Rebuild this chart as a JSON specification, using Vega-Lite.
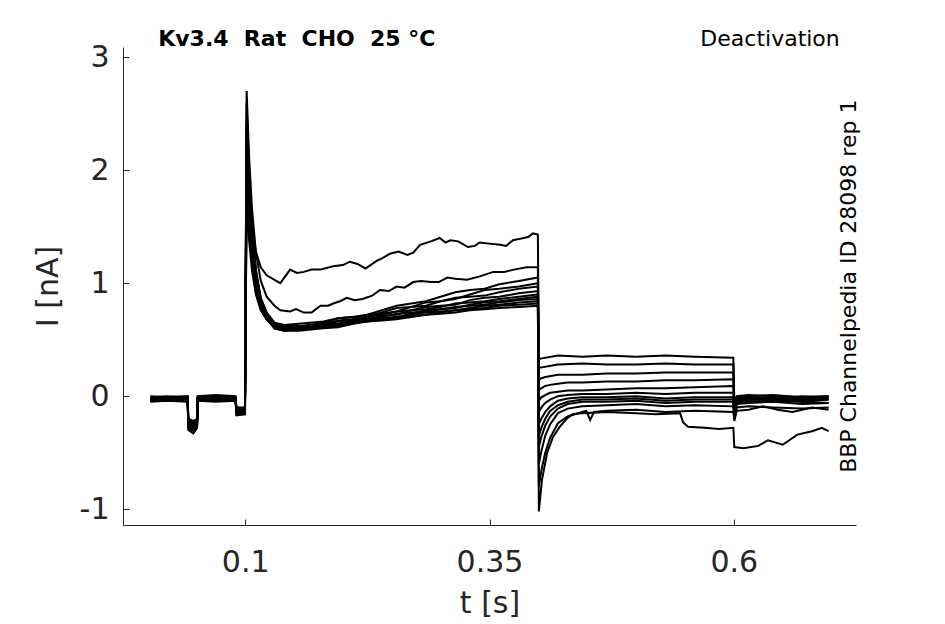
{
  "$schema": "https://vega.github.io/schema/vega-lite/v6.json",
  "description": "Kv3.4 Rat CHO 25 C, deactivation protocol, current traces",
  "width": 733,
  "height": 478,
  "autosize": {"type": "none"},
  "padding": {"left": 123, "top": 47, "right": 89, "bottom": 99},
  "config": {
    "view": {"stroke": null},
    "font": "DejaVu Sans",
    "axis": {
      "grid": false,
      "domainColor": "#262626",
      "tickColor": "#262626",
      "labelColor": "#262626",
      "titleColor": "#262626",
      "labelFont": "DejaVu Sans",
      "titleFont": "DejaVu Sans",
      "labelFontSize": 30,
      "titleFontSize": 30,
      "titleFontWeight": "normal",
      "tickSize": -6,
      "tickWidth": 1,
      "domainWidth": 1
    }
  },
  "layer": [
    {
      "data": {
        "values": [
          {"k":1,"t":0.003,"i":-0.02},{"k":1,"t":0.02,"i":-0.01},{"k":1,"t":0.0412,"i":-0.02},{"k":1,"t":0.0418,"i":-0.26},{"k":1,"t":0.047,"i":-0.29},{"k":1,"t":0.0508,"i":-0.24},{"k":1,"t":0.0514,"i":-0.02},{"k":1,"t":0.07,"i":-0.01},{"k":1,"t":0.0902,"i":-0.03},{"k":1,"t":0.091,"i":-0.13},{"k":1,"t":0.0998,"i":-0.12},
          {"k":1,"t":0.1015,"i":2.1},{"k":1,"t":0.104,"i":1.77},{"k":1,"t":0.107,"i":1.5},{"k":1,"t":0.111,"i":1.28},{"k":1,"t":0.116,"i":1.14},{"k":1,"t":0.122,"i":1.07},{"k":1,"t":0.13,"i":1.03},{"k":1,"t":0.136,"i":1.0},{"k":1,"t":0.146,"i":1.12},{"k":1,"t":0.153,"i":1.09},{"k":1,"t":0.16,"i":1.1},{"k":1,"t":0.168,"i":1.12},{"k":1,"t":0.177,"i":1.12},{"k":1,"t":0.19,"i":1.15},{"k":1,"t":0.2,"i":1.16},{"k":1,"t":0.207,"i":1.19},{"k":1,"t":0.215,"i":1.17},{"k":1,"t":0.223,"i":1.13},{"k":1,"t":0.235,"i":1.2},{"k":1,"t":0.24,"i":1.22},{"k":1,"t":0.248,"i":1.26},{"k":1,"t":0.257,"i":1.28},{"k":1,"t":0.266,"i":1.25},{"k":1,"t":0.272,"i":1.27},{"k":1,"t":0.279,"i":1.34},{"k":1,"t":0.29,"i":1.37},{"k":1,"t":0.299,"i":1.4},{"k":1,"t":0.305,"i":1.36},{"k":1,"t":0.31,"i":1.38},{"k":1,"t":0.318,"i":1.37},{"k":1,"t":0.328,"i":1.32},{"k":1,"t":0.335,"i":1.33},{"k":1,"t":0.34,"i":1.36},{"k":1,"t":0.35,"i":1.35},{"k":1,"t":0.361,"i":1.34},{"k":1,"t":0.367,"i":1.33},{"k":1,"t":0.374,"i":1.38},{"k":1,"t":0.38,"i":1.39},{"k":1,"t":0.385,"i":1.4},{"k":1,"t":0.39,"i":1.41},{"k":1,"t":0.3945,"i":1.44},{"k":1,"t":0.3995,"i":1.43},
          {"k":1,"t":0.4005,"i":0.33},{"k":1,"t":0.42,"i":0.36},{"k":1,"t":0.445,"i":0.35},{"k":1,"t":0.47,"i":0.36},{"k":1,"t":0.5,"i":0.35},{"k":1,"t":0.53,"i":0.36},{"k":1,"t":0.56,"i":0.35},{"k":1,"t":0.5995,"i":0.34},
          {"k":1,"t":0.6005,"i":-0.08},{"k":1,"t":0.603,"i":-0.03},{"k":1,"t":0.615,"i":-0.02},{"k":1,"t":0.64,"i":-0.01},{"k":1,"t":0.67,"i":-0.02},{"k":1,"t":0.697,"i":-0.02},

          {"k":2,"t":0.003,"i":-0.03},{"k":2,"t":0.02,"i":-0.02},{"k":2,"t":0.0412,"i":-0.03},{"k":2,"t":0.0418,"i":-0.3},{"k":2,"t":0.047,"i":-0.33},{"k":2,"t":0.0508,"i":-0.28},{"k":2,"t":0.0514,"i":-0.03},{"k":2,"t":0.07,"i":-0.02},{"k":2,"t":0.0902,"i":-0.02},{"k":2,"t":0.091,"i":-0.16},{"k":2,"t":0.0998,"i":-0.15},
          {"k":2,"t":0.1015,"i":2.7},{"k":2,"t":0.104,"i":2.12},{"k":2,"t":0.107,"i":1.66},{"k":2,"t":0.111,"i":1.27},{"k":2,"t":0.116,"i":1.02},{"k":2,"t":0.122,"i":0.88},{"k":2,"t":0.13,"i":0.8},{"k":2,"t":0.136,"i":0.76},{"k":2,"t":0.146,"i":0.75},{"k":2,"t":0.152,"i":0.77},{"k":2,"t":0.16,"i":0.74},{"k":2,"t":0.168,"i":0.74},{"k":2,"t":0.177,"i":0.8},{"k":2,"t":0.185,"i":0.8},{"k":2,"t":0.19,"i":0.82},{"k":2,"t":0.197,"i":0.84},{"k":2,"t":0.204,"i":0.87},{"k":2,"t":0.212,"i":0.85},{"k":2,"t":0.22,"i":0.86},{"k":2,"t":0.23,"i":0.89},{"k":2,"t":0.238,"i":0.94},{"k":2,"t":0.247,"i":0.93},{"k":2,"t":0.255,"i":0.97},{"k":2,"t":0.263,"i":0.96},{"k":2,"t":0.272,"i":1.01},{"k":2,"t":0.28,"i":1.02},{"k":2,"t":0.29,"i":1.01},{"k":2,"t":0.298,"i":1.01},{"k":2,"t":0.307,"i":1.05},{"k":2,"t":0.315,"i":1.04},{"k":2,"t":0.327,"i":1.03},{"k":2,"t":0.34,"i":1.06},{"k":2,"t":0.354,"i":1.1},{"k":2,"t":0.365,"i":1.1},{"k":2,"t":0.375,"i":1.12},{"k":2,"t":0.388,"i":1.14},{"k":2,"t":0.3995,"i":1.14},
          {"k":2,"t":0.4005,"i":0.25},{"k":2,"t":0.42,"i":0.28},{"k":2,"t":0.445,"i":0.29},{"k":2,"t":0.47,"i":0.28},{"k":2,"t":0.5,"i":0.28},{"k":2,"t":0.53,"i":0.29},{"k":2,"t":0.56,"i":0.28},{"k":2,"t":0.5995,"i":0.28},
          {"k":2,"t":0.6005,"i":-0.05},{"k":2,"t":0.603,"i":0.0},{"k":2,"t":0.615,"i":0.01},{"k":2,"t":0.64,"i":0.0},{"k":2,"t":0.67,"i":-0.01},{"k":2,"t":0.697,"i":0.0},

          {"k":3,"t":0.003,"i":0.0},{"k":3,"t":0.02,"i":-0.01},{"k":3,"t":0.0412,"i":0.0},{"k":3,"t":0.0418,"i":-0.2},{"k":3,"t":0.047,"i":-0.22},{"k":3,"t":0.0508,"i":-0.2},{"k":3,"t":0.0514,"i":0.0},{"k":3,"t":0.07,"i":0.01},{"k":3,"t":0.0902,"i":0.0},{"k":3,"t":0.091,"i":-0.1},{"k":3,"t":0.0998,"i":-0.1},
          {"k":3,"t":0.1015,"i":2.5},{"k":3,"t":0.104,"i":1.94},{"k":3,"t":0.107,"i":1.49},{"k":3,"t":0.111,"i":1.12},{"k":3,"t":0.116,"i":0.87},{"k":3,"t":0.122,"i":0.74},{"k":3,"t":0.13,"i":0.64},{"k":3,"t":0.14,"i":0.62},{"k":3,"t":0.155,"i":0.62},{"k":3,"t":0.18,"i":0.65},{"k":3,"t":0.195,"i":0.69},{"k":3,"t":0.21,"i":0.7},{"k":3,"t":0.225,"i":0.72},{"k":3,"t":0.24,"i":0.76},{"k":3,"t":0.255,"i":0.8},{"k":3,"t":0.27,"i":0.82},{"k":3,"t":0.285,"i":0.84},{"k":3,"t":0.3,"i":0.88},{"k":3,"t":0.315,"i":0.92},{"k":3,"t":0.33,"i":0.94},{"k":3,"t":0.345,"i":0.95},{"k":3,"t":0.36,"i":0.99},{"k":3,"t":0.38,"i":1.02},{"k":3,"t":0.3995,"i":1.05},
          {"k":3,"t":0.4005,"i":0.15},{"k":3,"t":0.407,"i":0.17},{"k":3,"t":0.42,"i":0.19},{"k":3,"t":0.445,"i":0.19},{"k":3,"t":0.47,"i":0.2},{"k":3,"t":0.5,"i":0.2},{"k":3,"t":0.53,"i":0.21},{"k":3,"t":0.56,"i":0.21},{"k":3,"t":0.5995,"i":0.21},
          {"k":3,"t":0.6005,"i":-0.1},{"k":3,"t":0.603,"i":-0.02},{"k":3,"t":0.615,"i":-0.01},{"k":3,"t":0.64,"i":-0.02},{"k":3,"t":0.67,"i":0.0},{"k":3,"t":0.697,"i":-0.01},

          {"k":4,"t":0.003,"i":-0.04},{"k":4,"t":0.02,"i":-0.03},{"k":4,"t":0.0412,"i":-0.04},{"k":4,"t":0.0418,"i":-0.24},{"k":4,"t":0.047,"i":-0.27},{"k":4,"t":0.0508,"i":-0.23},{"k":4,"t":0.0514,"i":-0.03},{"k":4,"t":0.07,"i":-0.04},{"k":4,"t":0.0902,"i":-0.03},{"k":4,"t":0.091,"i":-0.14},{"k":4,"t":0.0998,"i":-0.13},
          {"k":4,"t":0.1015,"i":2.4},{"k":4,"t":0.104,"i":1.87},{"k":4,"t":0.107,"i":1.43},{"k":4,"t":0.111,"i":1.08},{"k":4,"t":0.116,"i":0.84},{"k":4,"t":0.122,"i":0.71},{"k":4,"t":0.13,"i":0.62},{"k":4,"t":0.14,"i":0.6},{"k":4,"t":0.155,"i":0.61},{"k":4,"t":0.18,"i":0.63},{"k":4,"t":0.195,"i":0.64},{"k":4,"t":0.21,"i":0.68},{"k":4,"t":0.225,"i":0.72},{"k":4,"t":0.24,"i":0.73},{"k":4,"t":0.255,"i":0.75},{"k":4,"t":0.27,"i":0.79},{"k":4,"t":0.285,"i":0.83},{"k":4,"t":0.3,"i":0.84},{"k":4,"t":0.315,"i":0.86},{"k":4,"t":0.33,"i":0.9},{"k":4,"t":0.345,"i":0.94},{"k":4,"t":0.36,"i":0.95},{"k":4,"t":0.38,"i":0.97},{"k":4,"t":0.3995,"i":1.0},
          {"k":4,"t":0.4005,"i":0.06},{"k":4,"t":0.403,"i":0.07},{"k":4,"t":0.407,"i":0.09},{"k":4,"t":0.412,"i":0.1},{"k":4,"t":0.42,"i":0.11},{"k":4,"t":0.43,"i":0.12},{"k":4,"t":0.445,"i":0.12},{"k":4,"t":0.47,"i":0.13},{"k":4,"t":0.5,"i":0.13},{"k":4,"t":0.53,"i":0.14},{"k":4,"t":0.56,"i":0.14},{"k":4,"t":0.5995,"i":0.15},
          {"k":4,"t":0.6005,"i":-0.12},{"k":4,"t":0.603,"i":-0.04},{"k":4,"t":0.615,"i":-0.03},{"k":4,"t":0.64,"i":-0.04},{"k":4,"t":0.67,"i":-0.03},{"k":4,"t":0.697,"i":-0.02},

          {"k":5,"t":0.003,"i":-0.01},{"k":5,"t":0.02,"i":0.0},{"k":5,"t":0.0412,"i":-0.01},{"k":5,"t":0.0418,"i":-0.22},{"k":5,"t":0.047,"i":-0.25},{"k":5,"t":0.0508,"i":-0.2},{"k":5,"t":0.0514,"i":-0.01},{"k":5,"t":0.07,"i":0.0},{"k":5,"t":0.0902,"i":-0.01},{"k":5,"t":0.091,"i":-0.12},{"k":5,"t":0.0998,"i":-0.11},
          {"k":5,"t":0.1015,"i":2.3},{"k":5,"t":0.104,"i":1.81},{"k":5,"t":0.107,"i":1.4},{"k":5,"t":0.111,"i":1.07},{"k":5,"t":0.116,"i":0.86},{"k":5,"t":0.122,"i":0.74},{"k":5,"t":0.13,"i":0.65},{"k":5,"t":0.14,"i":0.63},{"k":5,"t":0.155,"i":0.64},{"k":5,"t":0.18,"i":0.66},{"k":5,"t":0.195,"i":0.69},{"k":5,"t":0.21,"i":0.7},{"k":5,"t":0.225,"i":0.71},{"k":5,"t":0.24,"i":0.74},{"k":5,"t":0.255,"i":0.78},{"k":5,"t":0.27,"i":0.79},{"k":5,"t":0.285,"i":0.8},{"k":5,"t":0.3,"i":0.84},{"k":5,"t":0.315,"i":0.87},{"k":5,"t":0.33,"i":0.88},{"k":5,"t":0.345,"i":0.89},{"k":5,"t":0.36,"i":0.92},{"k":5,"t":0.38,"i":0.95},{"k":5,"t":0.3995,"i":0.97},
          {"k":5,"t":0.4005,"i":-0.04},{"k":5,"t":0.403,"i":-0.01},{"k":5,"t":0.407,"i":0.01},{"k":5,"t":0.412,"i":0.03},{"k":5,"t":0.42,"i":0.04},{"k":5,"t":0.43,"i":0.05},{"k":5,"t":0.445,"i":0.05},{"k":5,"t":0.47,"i":0.06},{"k":5,"t":0.5,"i":0.07},{"k":5,"t":0.53,"i":0.07},{"k":5,"t":0.56,"i":0.08},{"k":5,"t":0.5995,"i":0.09},
          {"k":5,"t":0.6005,"i":-0.15},{"k":5,"t":0.603,"i":-0.01},{"k":5,"t":0.615,"i":0.0},{"k":5,"t":0.64,"i":0.01},{"k":5,"t":0.67,"i":-0.01},{"k":5,"t":0.697,"i":0.0},

          {"k":6,"t":0.003,"i":-0.03},{"k":6,"t":0.02,"i":-0.04},{"k":6,"t":0.0412,"i":-0.02},{"k":6,"t":0.0418,"i":-0.28},{"k":6,"t":0.047,"i":-0.31},{"k":6,"t":0.0508,"i":-0.26},{"k":6,"t":0.0514,"i":-0.02},{"k":6,"t":0.07,"i":-0.03},{"k":6,"t":0.0902,"i":-0.02},{"k":6,"t":0.091,"i":-0.15},{"k":6,"t":0.0998,"i":-0.14},
          {"k":6,"t":0.1015,"i":2.2},{"k":6,"t":0.104,"i":1.72},{"k":6,"t":0.107,"i":1.33},{"k":6,"t":0.111,"i":1.01},{"k":6,"t":0.116,"i":0.8},{"k":6,"t":0.122,"i":0.68},{"k":6,"t":0.13,"i":0.6},{"k":6,"t":0.14,"i":0.58},{"k":6,"t":0.155,"i":0.59},{"k":6,"t":0.18,"i":0.62},{"k":6,"t":0.195,"i":0.63},{"k":6,"t":0.21,"i":0.66},{"k":6,"t":0.225,"i":0.7},{"k":6,"t":0.24,"i":0.71},{"k":6,"t":0.255,"i":0.72},{"k":6,"t":0.27,"i":0.76},{"k":6,"t":0.285,"i":0.79},{"k":6,"t":0.3,"i":0.8},{"k":6,"t":0.315,"i":0.81},{"k":6,"t":0.33,"i":0.85},{"k":6,"t":0.345,"i":0.87},{"k":6,"t":0.36,"i":0.88},{"k":6,"t":0.38,"i":0.91},{"k":6,"t":0.3995,"i":0.93},
          {"k":6,"t":0.4005,"i":-0.14},{"k":6,"t":0.403,"i":-0.1},{"k":6,"t":0.407,"i":-0.06},{"k":6,"t":0.412,"i":-0.03},{"k":6,"t":0.42,"i":0.0},{"k":6,"t":0.43,"i":0.01},{"k":6,"t":0.445,"i":0.02},{"k":6,"t":0.47,"i":0.02},{"k":6,"t":0.5,"i":0.03},{"k":6,"t":0.53,"i":0.02},{"k":6,"t":0.56,"i":0.03},{"k":6,"t":0.5995,"i":0.03},
          {"k":6,"t":0.6005,"i":-0.18},{"k":6,"t":0.603,"i":-0.05},{"k":6,"t":0.615,"i":-0.03},{"k":6,"t":0.64,"i":-0.02},{"k":6,"t":0.67,"i":-0.04},{"k":6,"t":0.697,"i":-0.03},

          {"k":7,"t":0.003,"i":-0.02},{"k":7,"t":0.02,"i":-0.02},{"k":7,"t":0.0412,"i":-0.01},{"k":7,"t":0.0418,"i":-0.23},{"k":7,"t":0.047,"i":-0.26},{"k":7,"t":0.0508,"i":-0.22},{"k":7,"t":0.0514,"i":-0.02},{"k":7,"t":0.07,"i":-0.01},{"k":7,"t":0.0902,"i":-0.02},{"k":7,"t":0.091,"i":-0.11},{"k":7,"t":0.0998,"i":-0.12},
          {"k":7,"t":0.1015,"i":2.0},{"k":7,"t":0.104,"i":1.59},{"k":7,"t":0.107,"i":1.25},{"k":7,"t":0.111,"i":0.98},{"k":7,"t":0.116,"i":0.8},{"k":7,"t":0.122,"i":0.7},{"k":7,"t":0.13,"i":0.63},{"k":7,"t":0.14,"i":0.61},{"k":7,"t":0.155,"i":0.61},{"k":7,"t":0.18,"i":0.64},{"k":7,"t":0.195,"i":0.67},{"k":7,"t":0.21,"i":0.68},{"k":7,"t":0.225,"i":0.69},{"k":7,"t":0.24,"i":0.72},{"k":7,"t":0.255,"i":0.75},{"k":7,"t":0.27,"i":0.76},{"k":7,"t":0.285,"i":0.77},{"k":7,"t":0.3,"i":0.79},{"k":7,"t":0.315,"i":0.82},{"k":7,"t":0.33,"i":0.83},{"k":7,"t":0.345,"i":0.84},{"k":7,"t":0.36,"i":0.86},{"k":7,"t":0.38,"i":0.88},{"k":7,"t":0.3995,"i":0.9},
          {"k":7,"t":0.4005,"i":-0.25},{"k":7,"t":0.403,"i":-0.2},{"k":7,"t":0.407,"i":-0.14},{"k":7,"t":0.412,"i":-0.09},{"k":7,"t":0.42,"i":-0.04},{"k":7,"t":0.43,"i":-0.02},{"k":7,"t":0.445,"i":-0.01},{"k":7,"t":0.47,"i":-0.01},{"k":7,"t":0.5,"i":0.0},{"k":7,"t":0.53,"i":-0.02},{"k":7,"t":0.56,"i":-0.01},{"k":7,"t":0.5995,"i":-0.01},
          {"k":7,"t":0.6005,"i":-0.2},{"k":7,"t":0.603,"i":-0.06},{"k":7,"t":0.615,"i":-0.05},{"k":7,"t":0.64,"i":-0.04},{"k":7,"t":0.67,"i":-0.05},{"k":7,"t":0.697,"i":-0.06},

          {"k":8,"t":0.003,"i":-0.05},{"k":8,"t":0.02,"i":-0.04},{"k":8,"t":0.0412,"i":-0.05},{"k":8,"t":0.0418,"i":-0.27},{"k":8,"t":0.047,"i":-0.3},{"k":8,"t":0.0508,"i":-0.25},{"k":8,"t":0.0514,"i":-0.04},{"k":8,"t":0.07,"i":-0.05},{"k":8,"t":0.0902,"i":-0.04},{"k":8,"t":0.091,"i":-0.17},{"k":8,"t":0.0998,"i":-0.16},
          {"k":8,"t":0.1015,"i":1.9},{"k":8,"t":0.104,"i":1.51},{"k":8,"t":0.107,"i":1.2},{"k":8,"t":0.111,"i":0.94},{"k":8,"t":0.116,"i":0.77},{"k":8,"t":0.122,"i":0.68},{"k":8,"t":0.13,"i":0.61},{"k":8,"t":0.14,"i":0.59},{"k":8,"t":0.155,"i":0.6},{"k":8,"t":0.18,"i":0.62},{"k":8,"t":0.195,"i":0.62},{"k":8,"t":0.21,"i":0.65},{"k":8,"t":0.225,"i":0.68},{"k":8,"t":0.24,"i":0.69},{"k":8,"t":0.255,"i":0.7},{"k":8,"t":0.27,"i":0.73},{"k":8,"t":0.285,"i":0.76},{"k":8,"t":0.3,"i":0.77},{"k":8,"t":0.315,"i":0.78},{"k":8,"t":0.33,"i":0.81},{"k":8,"t":0.345,"i":0.83},{"k":8,"t":0.36,"i":0.84},{"k":8,"t":0.38,"i":0.86},{"k":8,"t":0.3995,"i":0.88},
          {"k":8,"t":0.4005,"i":-0.35},{"k":8,"t":0.403,"i":-0.28},{"k":8,"t":0.407,"i":-0.2},{"k":8,"t":0.412,"i":-0.13},{"k":8,"t":0.42,"i":-0.08},{"k":8,"t":0.43,"i":-0.05},{"k":8,"t":0.445,"i":-0.03},{"k":8,"t":0.47,"i":-0.03},{"k":8,"t":0.5,"i":-0.02},{"k":8,"t":0.53,"i":-0.04},{"k":8,"t":0.56,"i":-0.03},{"k":8,"t":0.5995,"i":-0.03},
          {"k":8,"t":0.6005,"i":-0.2},{"k":8,"t":0.603,"i":-0.1},{"k":8,"t":0.615,"i":-0.09},{"k":8,"t":0.64,"i":-0.1},{"k":8,"t":0.67,"i":-0.11},{"k":8,"t":0.697,"i":-0.1},

          {"k":9,"t":0.003,"i":-0.01},{"k":9,"t":0.02,"i":-0.02},{"k":9,"t":0.0412,"i":-0.01},{"k":9,"t":0.0418,"i":-0.21},{"k":9,"t":0.047,"i":-0.24},{"k":9,"t":0.0508,"i":-0.21},{"k":9,"t":0.0514,"i":-0.01},{"k":9,"t":0.07,"i":-0.02},{"k":9,"t":0.0902,"i":-0.01},{"k":9,"t":0.091,"i":-0.1},{"k":9,"t":0.0998,"i":-0.11},
          {"k":9,"t":0.1015,"i":1.8},{"k":9,"t":0.104,"i":1.45},{"k":9,"t":0.107,"i":1.16},{"k":9,"t":0.111,"i":0.92},{"k":9,"t":0.116,"i":0.77},{"k":9,"t":0.122,"i":0.68},{"k":9,"t":0.13,"i":0.62},{"k":9,"t":0.14,"i":0.6},{"k":9,"t":0.155,"i":0.6},{"k":9,"t":0.18,"i":0.63},{"k":9,"t":0.195,"i":0.66},{"k":9,"t":0.21,"i":0.67},{"k":9,"t":0.225,"i":0.68},{"k":9,"t":0.24,"i":0.7},{"k":9,"t":0.255,"i":0.73},{"k":9,"t":0.27,"i":0.74},{"k":9,"t":0.285,"i":0.75},{"k":9,"t":0.3,"i":0.77},{"k":9,"t":0.315,"i":0.79},{"k":9,"t":0.33,"i":0.8},{"k":9,"t":0.345,"i":0.81},{"k":9,"t":0.36,"i":0.83},{"k":9,"t":0.38,"i":0.85},{"k":9,"t":0.3995,"i":0.86},
          {"k":9,"t":0.4005,"i":-0.45},{"k":9,"t":0.403,"i":-0.36},{"k":9,"t":0.407,"i":-0.26},{"k":9,"t":0.412,"i":-0.18},{"k":9,"t":0.42,"i":-0.11},{"k":9,"t":0.43,"i":-0.07},{"k":9,"t":0.445,"i":-0.05},{"k":9,"t":0.47,"i":-0.05},{"k":9,"t":0.5,"i":-0.04},{"k":9,"t":0.53,"i":-0.06},{"k":9,"t":0.56,"i":-0.05},{"k":9,"t":0.5995,"i":-0.05},
          {"k":9,"t":0.6005,"i":-0.15},{"k":9,"t":0.603,"i":-0.04},{"k":9,"t":0.615,"i":-0.03},{"k":9,"t":0.64,"i":-0.02},{"k":9,"t":0.67,"i":-0.05},{"k":9,"t":0.697,"i":-0.03},

          {"k":10,"t":0.003,"i":-0.03},{"k":10,"t":0.02,"i":-0.02},{"k":10,"t":0.0412,"i":-0.03},{"k":10,"t":0.0418,"i":-0.25},{"k":10,"t":0.047,"i":-0.28},{"k":10,"t":0.0508,"i":-0.24},{"k":10,"t":0.0514,"i":-0.03},{"k":10,"t":0.07,"i":-0.02},{"k":10,"t":0.0902,"i":-0.03},{"k":10,"t":0.091,"i":-0.13},{"k":10,"t":0.0998,"i":-0.14},
          {"k":10,"t":0.1015,"i":2.6},{"k":10,"t":0.104,"i":2.0},{"k":10,"t":0.107,"i":1.51},{"k":10,"t":0.111,"i":1.11},{"k":10,"t":0.116,"i":0.85},{"k":10,"t":0.122,"i":0.71},{"k":10,"t":0.13,"i":0.6},{"k":10,"t":0.14,"i":0.58},{"k":10,"t":0.155,"i":0.58},{"k":10,"t":0.18,"i":0.6},{"k":10,"t":0.195,"i":0.61},{"k":10,"t":0.21,"i":0.64},{"k":10,"t":0.225,"i":0.67},{"k":10,"t":0.24,"i":0.68},{"k":10,"t":0.255,"i":0.69},{"k":10,"t":0.27,"i":0.72},{"k":10,"t":0.285,"i":0.74},{"k":10,"t":0.3,"i":0.75},{"k":10,"t":0.315,"i":0.76},{"k":10,"t":0.33,"i":0.78},{"k":10,"t":0.345,"i":0.8},{"k":10,"t":0.36,"i":0.81},{"k":10,"t":0.38,"i":0.83},{"k":10,"t":0.3995,"i":0.84},
          {"k":10,"t":0.4005,"i":-0.6},{"k":10,"t":0.403,"i":-0.49},{"k":10,"t":0.407,"i":-0.35},{"k":10,"t":0.412,"i":-0.25},{"k":10,"t":0.42,"i":-0.15},{"k":10,"t":0.43,"i":-0.11},{"k":10,"t":0.445,"i":-0.09},{"k":10,"t":0.47,"i":-0.08},{"k":10,"t":0.5,"i":-0.07},{"k":10,"t":0.53,"i":-0.09},{"k":10,"t":0.56,"i":-0.08},{"k":10,"t":0.5995,"i":-0.09},
          {"k":10,"t":0.6005,"i":-0.22},{"k":10,"t":0.603,"i":-0.13},{"k":10,"t":0.615,"i":-0.12},{"k":10,"t":0.63,"i":-0.09},{"k":10,"t":0.645,"i":-0.12},{"k":10,"t":0.66,"i":-0.14},{"k":10,"t":0.68,"i":-0.1},{"k":10,"t":0.697,"i":-0.12},

          {"k":11,"t":0.003,"i":-0.02},{"k":11,"t":0.02,"i":-0.03},{"k":11,"t":0.0412,"i":-0.02},{"k":11,"t":0.0418,"i":-0.29},{"k":11,"t":0.047,"i":-0.32},{"k":11,"t":0.0508,"i":-0.27},{"k":11,"t":0.0514,"i":-0.02},{"k":11,"t":0.07,"i":-0.03},{"k":11,"t":0.0902,"i":-0.02},{"k":11,"t":0.091,"i":-0.14},{"k":11,"t":0.0998,"i":-0.15},
          {"k":11,"t":0.1015,"i":1.7},{"k":11,"t":0.104,"i":1.38},{"k":11,"t":0.107,"i":1.11},{"k":11,"t":0.111,"i":0.9},{"k":11,"t":0.116,"i":0.76},{"k":11,"t":0.122,"i":0.68},{"k":11,"t":0.13,"i":0.62},{"k":11,"t":0.14,"i":0.6},{"k":11,"t":0.155,"i":0.6},{"k":11,"t":0.18,"i":0.62},{"k":11,"t":0.195,"i":0.64},{"k":11,"t":0.21,"i":0.65},{"k":11,"t":0.225,"i":0.66},{"k":11,"t":0.24,"i":0.68},{"k":11,"t":0.255,"i":0.7},{"k":11,"t":0.27,"i":0.71},{"k":11,"t":0.285,"i":0.72},{"k":11,"t":0.3,"i":0.74},{"k":11,"t":0.315,"i":0.76},{"k":11,"t":0.33,"i":0.77},{"k":11,"t":0.345,"i":0.78},{"k":11,"t":0.36,"i":0.8},{"k":11,"t":0.38,"i":0.81},{"k":11,"t":0.3995,"i":0.82},
          {"k":11,"t":0.4005,"i":-0.8},{"k":11,"t":0.403,"i":-0.66},{"k":11,"t":0.407,"i":-0.5},{"k":11,"t":0.412,"i":-0.37},{"k":11,"t":0.42,"i":-0.24},{"k":11,"t":0.43,"i":-0.18},{"k":11,"t":0.445,"i":-0.14},{"k":11,"t":0.449,"i":-0.13},{"k":11,"t":0.453,"i":-0.21},{"k":11,"t":0.457,"i":-0.14},{"k":11,"t":0.47,"i":-0.13},{"k":11,"t":0.5,"i":-0.12},{"k":11,"t":0.53,"i":-0.14},{"k":11,"t":0.56,"i":-0.13},{"k":11,"t":0.5995,"i":-0.14},
          {"k":11,"t":0.6005,"i":-0.2},{"k":11,"t":0.603,"i":-0.07},{"k":11,"t":0.615,"i":-0.06},{"k":11,"t":0.64,"i":-0.05},{"k":11,"t":0.67,"i":-0.07},{"k":11,"t":0.697,"i":-0.06},

          {"k":12,"t":0.003,"i":-0.04},{"k":12,"t":0.02,"i":-0.03},{"k":12,"t":0.0412,"i":-0.04},{"k":12,"t":0.0418,"i":-0.23},{"k":12,"t":0.047,"i":-0.26},{"k":12,"t":0.0508,"i":-0.22},{"k":12,"t":0.0514,"i":-0.03},{"k":12,"t":0.07,"i":-0.04},{"k":12,"t":0.0902,"i":-0.03},{"k":12,"t":0.091,"i":-0.12},{"k":12,"t":0.0998,"i":-0.13},
          {"k":12,"t":0.1015,"i":2.35},{"k":12,"t":0.104,"i":1.83},{"k":12,"t":0.107,"i":1.4},{"k":12,"t":0.111,"i":1.06},{"k":12,"t":0.116,"i":0.83},{"k":12,"t":0.122,"i":0.7},{"k":12,"t":0.13,"i":0.61},{"k":12,"t":0.14,"i":0.59},{"k":12,"t":0.155,"i":0.59},{"k":12,"t":0.18,"i":0.61},{"k":12,"t":0.195,"i":0.62},{"k":12,"t":0.21,"i":0.64},{"k":12,"t":0.225,"i":0.66},{"k":12,"t":0.24,"i":0.67},{"k":12,"t":0.255,"i":0.68},{"k":12,"t":0.27,"i":0.7},{"k":12,"t":0.285,"i":0.72},{"k":12,"t":0.3,"i":0.73},{"k":12,"t":0.315,"i":0.74},{"k":12,"t":0.33,"i":0.76},{"k":12,"t":0.345,"i":0.77},{"k":12,"t":0.36,"i":0.78},{"k":12,"t":0.38,"i":0.79},{"k":12,"t":0.3995,"i":0.8},
          {"k":12,"t":0.4005,"i":-1.02},{"k":12,"t":0.4037,"i":-0.74},{"k":12,"t":0.409,"i":-0.5},{"k":12,"t":0.415,"i":-0.36},{"k":12,"t":0.422,"i":-0.27},{"k":12,"t":0.429,"i":-0.2},{"k":12,"t":0.435,"i":-0.16},{"k":12,"t":0.445,"i":-0.15},{"k":12,"t":0.47,"i":-0.14},{"k":12,"t":0.5,"i":-0.15},{"k":12,"t":0.52,"i":-0.16},{"k":12,"t":0.545,"i":-0.15},{"k":12,"t":0.548,"i":-0.23},{"k":12,"t":0.553,"i":-0.27},{"k":12,"t":0.57,"i":-0.28},{"k":12,"t":0.585,"i":-0.29},{"k":12,"t":0.5995,"i":-0.28},
          {"k":12,"t":0.6005,"i":-0.45},{"k":12,"t":0.61,"i":-0.46},{"k":12,"t":0.625,"i":-0.44},{"k":12,"t":0.635,"i":-0.39},{"k":12,"t":0.65,"i":-0.43},{"k":12,"t":0.665,"i":-0.34},{"k":12,"t":0.68,"i":-0.31},{"k":12,"t":0.69,"i":-0.28},{"k":12,"t":0.697,"i":-0.31}
        ]
      },
      "mark": {"type": "line", "color": "black", "strokeWidth": 2},
      "encoding": {
        "x": {
          "field": "t",
          "type": "quantitative",
          "scale": {"domain": [-0.025, 0.725], "nice": false, "zero": false},
          "axis": {"values": [0.1, 0.35, 0.6], "labelExpr": "'' + datum.value", "title": "t [s]", "labelPadding": 28, "titlePadding": 11}
        },
        "y": {
          "field": "i",
          "type": "quantitative",
          "scale": {"domain": [-1.14, 3.09], "nice": false, "zero": false},
          "axis": {"values": [-1, 0, 1, 2, 3], "labelExpr": "'' + datum.value", "title": "I [nA]", "labelPadding": 20, "titlePadding": 16}
        },
        "detail": {"field": "k", "type": "nominal"}
      }
    },
    {
      "data": {"values": [{}]},
      "mark": {"type": "text", "align": "left", "baseline": "middle", "fontSize": 22, "fontWeight": "bold", "font": "DejaVu Sans", "color": "black"},
      "encoding": {
        "x": {"datum": 0.011, "type": "quantitative"},
        "y": {"datum": 3.16, "type": "quantitative"},
        "text": {"value": "Kv3.4\u00a0 Rat\u00a0 CHO\u00a0 25 °C"}
      }
    },
    {
      "data": {"values": [{}]},
      "mark": {"type": "text", "align": "right", "baseline": "middle", "fontSize": 22, "font": "DejaVu Sans", "color": "black"},
      "encoding": {
        "x": {"datum": 0.7084, "type": "quantitative"},
        "y": {"datum": 3.16, "type": "quantitative"},
        "text": {"value": "Deactivation"}
      }
    },
    {
      "data": {"values": [{}]},
      "mark": {"type": "text", "align": "center", "baseline": "middle", "angle": 270, "fontSize": 22, "font": "DejaVu Sans", "color": "black"},
      "encoding": {
        "x": {"datum": 0.7176, "type": "quantitative"},
        "y": {"datum": 0.973, "type": "quantitative"},
        "text": {"value": "BBP Channelpedia ID 28098 rep 1"}
      }
    }
  ]
}
